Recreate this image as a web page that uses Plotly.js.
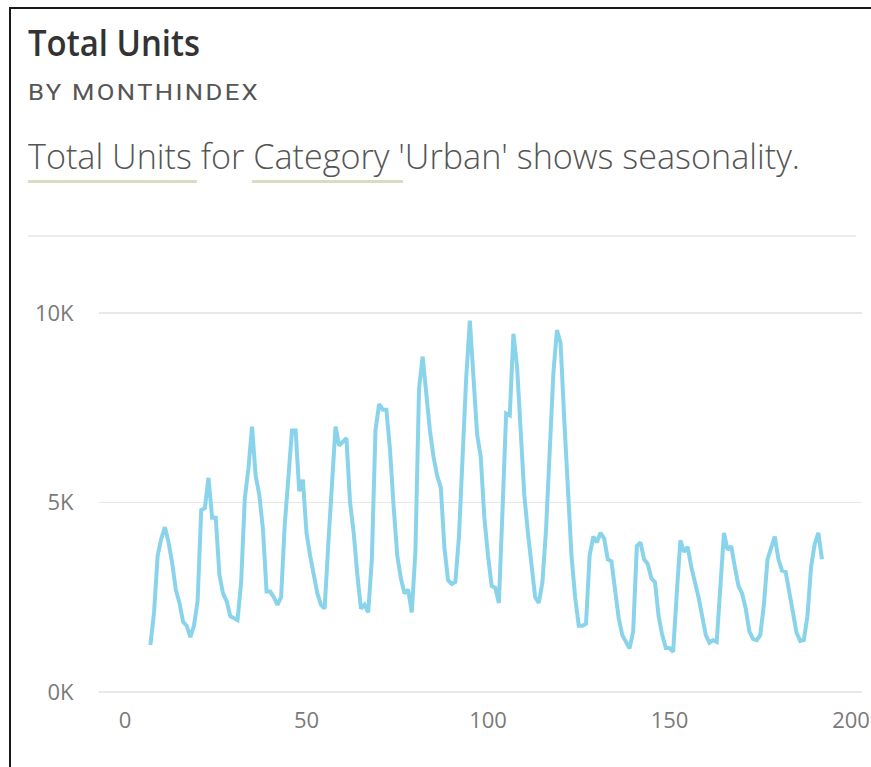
<!DOCTYPE html>
<html>
<head>
<meta charset="utf-8">
<script src="https://cdn.plot.ly/plotly-3.0.1.min.js"></script>
<style>
  html, body { margin: 0; padding: 0; background: #ffffff; }
  body { width: 871px; height: 767px; position: relative; overflow: hidden; }
  #frame { position: absolute; left: 9px; top: 7px; width: 900px; height: 800px;
           border-left: 2px solid #1a1a1a; border-top: 2px solid #1a1a1a; box-sizing: border-box; }
  .txt { position: absolute; white-space: nowrap; display: inline-block; transform-origin: 0 0; line-height: 1; }
  #title { left: 28px; top: 25px; font-family: "Open Sans", sans-serif; font-weight: 600; font-size: 36px; color: #333333; }
  #subtitle { left: 28px; top: 82px; font-family: Roboto, sans-serif; font-weight: 400; font-size: 22px; color: #555555; letter-spacing: 2px; }
  #narr { left: 28px; top: 139px; font-family: "Open Sans", sans-serif; font-weight: 300; font-size: 34px; color: #555555; }
  .ul { position: absolute; height: 3px; background: #d9dcc2; top: 180px; }
  #sep { position: absolute; left: 28px; top: 235px; width: 828px; height: 2px; background: #ececec; }
  #chart { position: absolute; left: 0; top: 0; width: 871px; height: 767px; }
</style>
</head>
<body>
<div id="chart"></div>
<div id="frame"></div>
<div id="title" class="txt">Total Units</div>
<div id="subtitle" class="txt">BY MONTHINDEX</div>
<div id="narr" class="txt">Total Units for Category 'Urban' shows seasonality.</div>
<div class="ul" style="left:28px;width:169px;"></div>
<div class="ul" style="left:252px;width:151px;"></div>
<div id="sep"></div>
<script>
// ---- data ----
const monthIndex = [7,8,9,10,11,12,13,14,15,16,17,18,19,20,21,22,23,24,25,26,27,28,29,30,31,32,33,34,35,36,37,38,39,40,
  41,42,43,44,45,46,47,48,49,50,51,52,53,54,55,56,57,58,59,60,61,62,63,64,65,66,67,68,69,70,71,72,73,74,75,76,77,78,79,80,
  81,82,83,84,85,86,87,88,89,90,91,92,93,94,95,96,97,98,99,100,101,102,103,104,105,106,107,108,109,110,111,112,113,114,115,
  116,117,118,119,120,121,122,123,124,125,126,127,128,129,130,131,132,133,134,135,136,137,138,139,140,141,142,143,144,145,
  146,147,148,149,150,151,152,153,154,155,156,157,158,159,160,161,162,163,164,165,166,167,168,169,170,171,172,173,174,175,
  176,177,178,179,180,181,182,183,184,185,186,187,188,189,190,191,192];
const totalUnits = [1240,2100,3600,4050,4350,3950,3400,2700,2350,1850,1750,1450,1750,2400,4800,4850,5650,4600,4600,3100,
  2600,2400,2000,1950,1900,2900,5100,5900,7000,5700,5200,4300,2650,2650,2500,2300,2500,4400,5600,6900,6900,5300,5600,4200,
  3600,3100,2600,2300,2200,3900,5600,7000,6500,6600,6700,5000,4200,3100,2200,2300,2100,3500,6900,7600,7450,7450,6400,4900,
  3600,3000,2600,2700,2100,3700,8000,8850,7800,6900,6200,5700,5400,3800,2950,2850,2900,4100,6200,8300,9800,8400,6800,6200,
  4600,3600,2800,2750,2350,4800,7350,7300,9450,8600,6900,5200,4200,3300,2500,2350,2900,4300,6300,8400,9550,9200,7200,5300,
  3600,2500,1750,1750,1800,3600,4100,3950,4200,4050,3500,3450,2700,1950,1500,1300,1150,1600,3850,3950,3500,3380,3000,2900,
  2000,1500,1160,1160,1060,2600,4000,3700,3830,3300,2950,2500,2000,1500,1300,1370,1320,2800,4200,3750,3850,3300,2800,2600,
  2200,1600,1400,1370,1500,2300,3500,3800,4100,3500,3200,3170,2700,2100,1560,1350,1370,2000,3300,3900,4200,3500];
const xTickVals = [0,50,100,150,200];
const xTickText = ['0','50','100','150','200'];
const yTickVals = [0,5000,10000];
const yTickText = ['0K','5K','10K'];

// ---- fit header text widths ----
function fitWidth(id, targetW) {
  const el = document.getElementById(id);
  el.style.transform = 'none';
  const w = el.getBoundingClientRect().width;
  el.style.transform = 'scaleX(' + (targetW / w) + ')';
}
fitWidth('title', 172);
fitWidth('subtitle', 232);
fitWidth('narr', 772);

// ---- chart ----
const pxPerUnit = 181.5 / 50;
const trace = {
  x: monthIndex, y: totalUnits, type: 'scatter', mode: 'lines',
  line: { color: '#8AD4EB', width: 4, shape: 'linear' },
  hoverinfo: 'skip'
};
const layout = {
  width: 871, height: 767,
  margin: { l: 99, r: 9, t: 290, b: 75, pad: 0 },
  paper_bgcolor: 'rgba(0,0,0,0)', plot_bgcolor: 'rgba(0,0,0,0)',
  showlegend: false,
  font: { family: '"Open Sans", sans-serif', color: '#777777', size: 22 },
  xaxis: {
    range: [-(125 - 99) / pxPerUnit, (862 - 125) / pxPerUnit],
    tickvals: xTickVals, ticktext: xTickText,
    showgrid: false, zeroline: false, showline: false,
    ticks: 'outside', ticklen: 9, tickcolor: 'rgba(0,0,0,0)',
    tickfont: { family: '"Open Sans", sans-serif', size: 22, color: '#7a7a7a' }
  },
  yaxis: {
    range: [0, 402 / 37.9 * 1000],
    tickvals: yTickVals, ticktext: yTickText,
    showgrid: true, gridcolor: '#e8e8e8', gridwidth: 1.5,
    zeroline: true, zerolinecolor: '#e8e8e8', zerolinewidth: 1.5,
    showline: false,
    ticks: 'outside', ticklen: 20, tickcolor: 'rgba(0,0,0,0)',
    tickfont: { family: '"Open Sans", sans-serif', size: 22, color: '#7a7a7a' }
  }
};
Plotly.newPlot('chart', [trace], layout, { staticPlot: true, displayModeBar: false });
</script>
</body>
</html>
